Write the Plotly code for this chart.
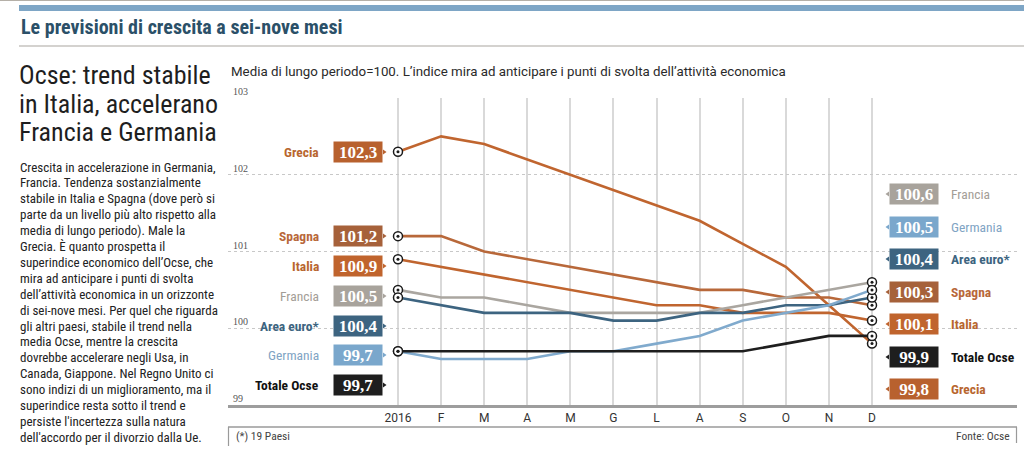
import plotly.graph_objects as go

# ---------------- data ----------------
months = ["2016", "F", "M", "A", "M", "G", "L", "A", "S", "O", "N", "D"]
grecia = [102.3, 102.5, 102.4, 102.2, 102.0, 101.8, 101.6, 101.4, 101.1, 100.8, 100.3, 99.8]
spagna = [101.2, 101.2, 101.0, 100.9, 100.8, 100.7, 100.6, 100.5, 100.5, 100.4, 100.4, 100.3]
italia = [100.9, 100.8, 100.7, 100.6, 100.5, 100.4, 100.3, 100.3, 100.2, 100.2, 100.2, 100.1]
francia = [100.5, 100.4, 100.4, 100.3, 100.2, 100.2, 100.2, 100.2, 100.3, 100.4, 100.5, 100.6]
area_euro = [100.4, 100.3, 100.2, 100.2, 100.2, 100.1, 100.1, 100.2, 100.2, 100.3, 100.3, 100.4]
germania = [99.7, 99.6, 99.6, 99.6, 99.7, 99.7, 99.8, 99.9, 100.1, 100.2, 100.3, 100.5]
totale_ocse = [99.7, 99.7, 99.7, 99.7, 99.7, 99.7, 99.7, 99.7, 99.7, 99.8, 99.9, 99.9]
y_ticks = [99, 100, 101, 102, 103]

names = ["Grecia", "Spagna", "Italia", "Francia", "Area euro*", "Germania", "Totale Ocse"]
values = [grecia, spagna, italia, francia, area_euro, germania, totale_ocse]

# ---------------- styles ----------------
line_col = {"Grecia": "#c0652f", "Spagna": "#b8683a", "Italia": "#c0652f", "Francia": "#aaa6a0",
            "Area euro*": "#3d6480", "Germania": "#80aacd", "Totale Ocse": "#1e1e1e"}
box_col = {"Grecia": "#b8612e", "Spagna": "#a6613a", "Italia": "#c0642d", "Francia": "#a8a39c",
           "Area euro*": "#3d6480", "Germania": "#7aa7cc", "Totale Ocse": "#1e1e1e"}
txt_col = {"Grecia": "#b8662f", "Spagna": "#b8683a", "Italia": "#b8662f", "Francia": "#a39d96",
           "Area euro*": "#3d6480", "Germania": "#7fa4c4", "Totale Ocse": "#111111"}
bold = {"Grecia": True, "Spagna": True, "Italia": True, "Francia": False,
        "Area euro*": True, "Germania": False, "Totale Ocse": True}
# label slots (pixel rows) on the left (Jan order) and on the right (Dec order)
left_rows = [152, 236, 266, 296, 326, 355, 385]
right_order = ["Francia", "Germania", "Area euro*", "Spagna", "Italia", "Totale Ocse", "Grecia"]
right_rows = [194, 227, 259, 292, 324, 357, 389]

W, H = 1024, 450
PL, PR, PT, PB = 228, 1017, 98, 405
XMIN = -3.945
XMAX = 14.365

NARROW = "Liberation Sans Narrow, Roboto Condensed, Roboto, sans-serif"
SANS = "Roboto, Noto Sans, sans-serif"
SERIF = "Liberation Serif, DejaVu Serif, serif"


def px(x):
    return (x - PL) / (PR - PL)


def py(y):
    return (PB - y) / (PB - PT)


fig = go.Figure()

for n, v in zip(names, values):
    fig.add_trace(go.Scatter(x=list(range(len(months))), y=v, mode="lines",
                             line=dict(color=line_col[n], width=2.6), hoverinfo="skip",
                             showlegend=False))

# endpoint markers (Jan and Dec)
ends_x, ends_y = [], []
for v in values:
    ends_x += [0, len(months) - 1]
    ends_y += [v[0], v[-1]]
fig.add_trace(go.Scatter(x=ends_x, y=ends_y, mode="markers", showlegend=False, hoverinfo="skip",
                         marker=dict(symbol="circle", size=9, color="white",
                                     line=dict(color="#1a1a1a", width=1.5))))
fig.add_trace(go.Scatter(x=ends_x, y=ends_y, mode="markers", showlegend=False, hoverinfo="skip",
                         marker=dict(symbol="circle", size=3, color="#1a1a1a")))

ann = []
shapes = []


def fmt(v):
    return ("%.1f" % v).replace(".", ",")


def label_name(n):
    return "<b>%s</b>" % n if bold[n] else n


# left labels
for n, v, row in zip(names, values, left_rows):
    ann.append(dict(xref="paper", yref="paper", x=px(321), y=py(row), xanchor="right", yanchor="middle",
                    text=label_name(n), showarrow=False,
                    font=dict(family=NARROW, size=13.5, color=txt_col[n])))
    ann.append(dict(xref="paper", yref="paper", x=px(358), y=py(row), xanchor="center", yanchor="middle",
                    text="<b>%s</b>" % fmt(v[0]), showarrow=False, width=46, height=18, borderpad=1,
                    bgcolor=box_col[n], font=dict(family=SERIF, size=17, color="white")))
    shapes.append(dict(type="path", xref="paper", yref="paper",
                       path="M %f %f L %f %f L %f %f Z" % (px(383), py(row - 2.5), px(386.5), py(row),
                                                           px(383), py(row + 2.5)),
                       fillcolor=box_col[n], line=dict(width=0)))

# right labels
for n, row in zip(right_order, right_rows):
    v = values[names.index(n)]
    ann.append(dict(xref="paper", yref="paper", x=px(949), y=py(row), xanchor="left", yanchor="middle",
                    text=label_name(n), showarrow=False,
                    font=dict(family=NARROW, size=13.5, color=txt_col[n])))
    ann.append(dict(xref="paper", yref="paper", x=px(914), y=py(row), xanchor="center", yanchor="middle",
                    text="<b>%s</b>" % fmt(v[-1]), showarrow=False, width=46, height=18, borderpad=1,
                    bgcolor=box_col[n], font=dict(family=SERIF, size=17, color="white")))
    shapes.append(dict(type="path", xref="paper", yref="paper",
                       path="M %f %f L %f %f L %f %f Z" % (px(889), py(row - 2.5), px(885.5), py(row),
                                                           px(889), py(row + 2.5)),
                       fillcolor=box_col[n], line=dict(width=0)))

# y tick labels above gridlines
for t in y_ticks:
    ann.append(dict(xref="paper", yref="y", x=px(231), y=t, xanchor="left", yanchor="bottom",
                    text=str(t), showarrow=False, yshift=-1,
                    font=dict(family=SERIF, size=10, color="#555555")))

# header
shapes.append(dict(type="line", xref="paper", yref="paper", x0=px(0), x1=px(1024), y0=py(0.5), y1=py(0.5),
                   line=dict(color="#b5b0a8", width=1)))
shapes.append(dict(type="rect", xref="paper", yref="paper", x0=px(19), x1=px(1024), y0=py(5), y1=py(11),
                   fillcolor="#7ea6c6", line=dict(width=0)))
shapes.append(dict(type="line", xref="paper", yref="paper", x0=px(19), x1=px(1024), y0=py(46), y1=py(46),
                   line=dict(color="#a9a6a0", width=1.2)))
ann.append(dict(xref="paper", yref="paper", x=px(19), y=py(27), xanchor="left", yanchor="middle",
                text="<b>Le previsioni di crescita a sei-nove mesi</b>", showarrow=False,
                font=dict(family=NARROW, size=20, color="#2b5068")))

# headline
for i, t in enumerate(["Ocse: trend stabile", "in Italia, accelerano", "Francia e Germania"]):
    ann.append(dict(xref="paper", yref="paper", x=px(17), y=py(75 + i * 28.5), xanchor="left",
                    yanchor="middle", text=t, showarrow=False, height=28,
                    font=dict(family=NARROW, size=26, color="#1e1e1e")))

body = [
    "Crescita in accelerazione in Germania,",
    "Francia. Tendenza sostanzialmente",
    "stabile in Italia e Spagna (dove però si",
    "parte da un livello più alto rispetto alla",
    "media di lungo periodo). Male la",
    "Grecia. È quanto prospetta il",
    "superindice economico dell’Ocse, che",
    "mira ad anticipare i punti di svolta",
    "dell’attività economica in un orizzonte",
    "di sei-nove mesi. Per quel che riguarda",
    "gli altri paesi, stabile il trend nella",
    "media Ocse, mentre la crescita",
    "dovrebbe accelerare negli Usa, in",
    "Canada, Giappone. Nel Regno Unito ci",
    "sono indizi di un miglioramento, ma il",
    "superindice resta sotto il trend e",
    "persiste l'incertezza sulla natura",
    "dell'accordo per il divorzio dalla Ue.",
]
for i, t in enumerate(body):
    ann.append(dict(xref="paper", yref="paper", x=px(18), y=py(167 + i * 15.9), xanchor="left",
                    yanchor="middle", text=t, showarrow=False,
                    font=dict(family=NARROW, size=13, color="#222222")))

# subtitle
ann.append(dict(xref="paper", yref="paper", x=px(229), y=py(72), xanchor="left", yanchor="middle",
                text="Media di lungo periodo=100. L’indice mira ad anticipare i punti di svolta dell’attività economica",
                showarrow=False, font=dict(family=SANS, size=13.3, color="#2a2a2a")))

# footer
shapes.append(dict(type="line", xref="paper", yref="paper", x0=px(228), x1=px(1017), y0=py(427), y1=py(427),
                   line=dict(color="#9a9a9a", width=1.5)))
shapes.append(dict(type="line", xref="paper", yref="paper", x0=px(228.5), x1=px(228.5), y0=py(427), y1=py(446),
                   line=dict(color="#9a9a9a", width=1.2)))
shapes.append(dict(type="line", xref="paper", yref="paper", x0=px(1016.5), x1=px(1016.5), y0=py(427), y1=py(443),
                   line=dict(color="#9a9a9a", width=1.2)))
ann.append(dict(xref="paper", yref="paper", x=px(234), y=py(436), xanchor="left", yanchor="middle",
                text="(*) 19 Paesi", showarrow=False, font=dict(family=NARROW, size=11.5, color="#444444")))
ann.append(dict(xref="paper", yref="paper", x=px(1012), y=py(436), xanchor="right", yanchor="middle",
                text="Fonte: Ocse", showarrow=False, font=dict(family=NARROW, size=11.5, color="#444444")))

fig.update_layout(
    width=W, height=H, autosize=False,
    margin=dict(l=PL, r=W - PR, t=PT, b=H - PB),
    paper_bgcolor="white", plot_bgcolor="white",
    annotations=ann, shapes=shapes, showlegend=False,
    xaxis=dict(range=[XMIN, XMAX], tickvals=list(range(len(months))), ticktext=months,
               showgrid=True, gridcolor="#d9d9d9", gridwidth=1.5, zeroline=False,
               showline=True, linecolor="#9d9d9d", linewidth=2.5, ticks="",
               tickfont=dict(family=SANS, size=12, color="#333333"), fixedrange=True),
    yaxis=dict(range=[y_ticks[0], y_ticks[-1]], tickvals=y_ticks[1:], showticklabels=False,
               showgrid=True, gridcolor="#c8c8c8", gridwidth=1, griddash="dot", zeroline=False,
               showline=False, ticks="", fixedrange=True),
)

fig.write_html("out.html")
